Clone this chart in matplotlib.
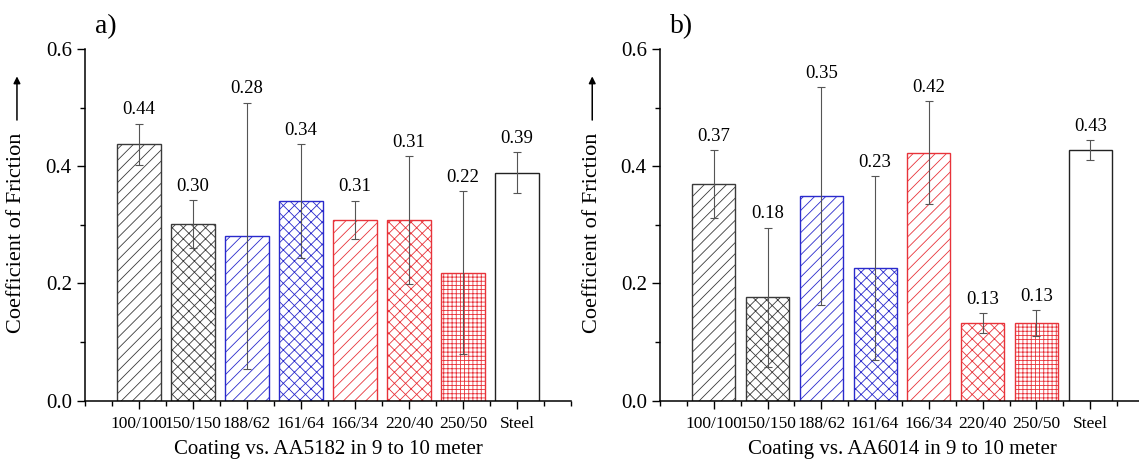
import numpy as np
import matplotlib.pyplot as plt
from matplotlib.ticker import MultipleLocator

plt.rcParams['font.family'] = ['Liberation Serif', 'DejaVu Serif']
plt.rcParams['hatch.linewidth'] = 0.6

categories = ["100/100", "150/150", "188/62", "161/64", "166/34", "220/40", "250/50", "Steel"]

# panel a) AA5182
cof_a = [0.437, 0.301, 0.281, 0.340, 0.308, 0.308, 0.218, 0.389]
err_a = [0.035, 0.041, 0.227, 0.097, 0.033, 0.109, 0.139, 0.035]

# panel b) AA6014
cof_b = [0.369, 0.176, 0.349, 0.226, 0.423, 0.132, 0.132, 0.427]
err_b = [0.058, 0.119, 0.186, 0.157, 0.088, 0.017, 0.022, 0.017]

xlabels = ["Coating vs. AA5182 in 9 to 10 meter", "Coating vs. AA6014 in 9 to 10 meter"]
panel_tags = ["a)", "b)"]

colors = ["#3a3a3a", "#3a3a3a", "#2a2acc", "#2a2acc", "#e8333a", "#e8333a", "#e8333a", "#222222"]
hatches = ["///", "xxx", "///", "xxx", "///", "xxx", "++++", ""]


def draw_panel(ax, values, errors, xlabel, tag):
    x = np.arange(1, len(categories) + 1)
    for xi, v, e, c, h in zip(x, values, errors, colors, hatches):
        ax.bar(xi, v, width=0.8, facecolor="white", edgecolor=c, hatch=h,
               linewidth=1.0, zorder=2)
        ax.errorbar(xi, v, yerr=e, fmt="none", ecolor="#555555", elinewidth=0.8,
                    capsize=3, capthick=0.8, zorder=3)
        ax.annotate(f"{v:.2f}", (xi, v + e), xytext=(0, 4), textcoords="offset points",
                    ha="center", va="bottom", fontsize=13.5)

    ax.set_xlim(0, 9)
    ax.set_ylim(0, 0.6)
    ax.set_xticks(x)
    ax.set_xticklabels(categories, fontsize=12.5)
    ax.xaxis.set_minor_locator(MultipleLocator(0.5))
    ax.yaxis.set_major_locator(MultipleLocator(0.2))
    ax.yaxis.set_minor_locator(MultipleLocator(0.1))
    ax.yaxis.set_major_formatter(plt.FormatStrFormatter("%.1f"))
    ax.tick_params(axis="y", labelsize=15)
    ax.tick_params(which="major", direction="out", length=6, width=1.0)
    ax.tick_params(which="minor", direction="out", length=3.5, width=1.0)
    ax.tick_params(axis="x", which="major", pad=5)

    for s in ["top", "right"]:
        ax.spines[s].set_visible(False)
    for s in ["left", "bottom"]:
        ax.spines[s].set_linewidth(1.1)

    ax.set_xlabel(xlabel, fontsize=15, labelpad=6)
    ax.text(-0.14, 0.478, "Coefficient of Friction", transform=ax.transAxes,
            rotation=90, ha="center", va="center", fontsize=16)
    ax.annotate("", xy=(-0.14, 0.93), xytext=(-0.14, 0.79), xycoords="axes fraction",
                textcoords="axes fraction",
                arrowprops=dict(arrowstyle="-|>", color="black", lw=1.1,
                                mutation_scale=10))
    ax.text(0.02, 1.065, tag, transform=ax.transAxes, ha="left", va="center", fontsize=20)


fig = plt.figure(figsize=(11.39, 4.63), dpi=100, facecolor="white")
W, H = 1139.0, 463.0
ax_a = fig.add_axes([85 / W, 1 - 400.5 / H, 486 / W, 351.5 / H])
ax_b = fig.add_axes([660 / W, 1 - 400.5 / H, 484 / W, 351.5 / H])

draw_panel(ax_a, cof_a, err_a, xlabels[0], panel_tags[0])
draw_panel(ax_b, cof_b, err_b, xlabels[1], panel_tags[1])

fig.savefig("out.png", dpi=100, facecolor=fig.get_facecolor())
